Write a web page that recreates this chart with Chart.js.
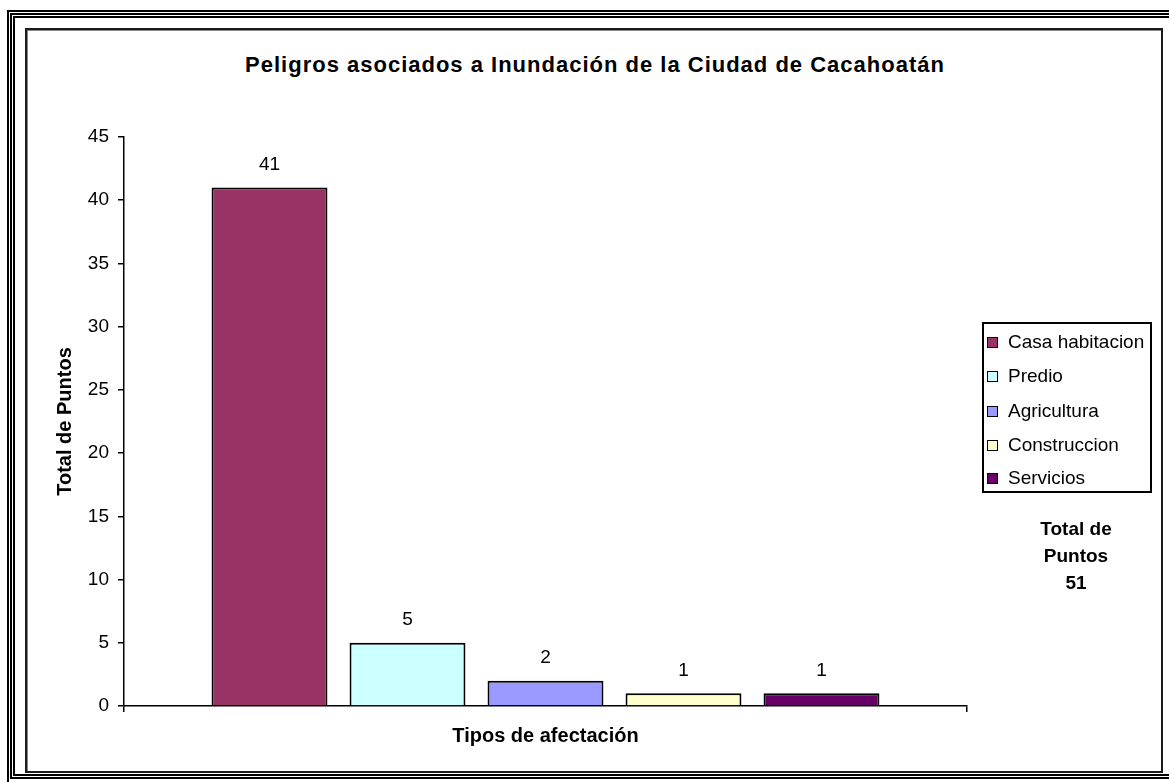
<!DOCTYPE html>
<html>
<head>
<meta charset="utf-8">
<script src="https://cdn.jsdelivr.net/npm/chart.js@4.4.0/dist/chart.umd.min.js"></script>
<style>
  html, body { margin:0; padding:0; background:#fff; }
  body { width:1169px; height:782px; position:relative; overflow:hidden; font-family:"Liberation Sans", Arial, sans-serif; }
  .frame { position:absolute; border:2px solid #000; box-sizing:border-box; }
  #inner { left:25px; top:28px; width:1138px; height:745px; border:2px solid #1b1b1b; box-shadow: inset 1px 1px 0 #888; }
  #title { position:absolute; left:0; width:1190px; top:52px; text-align:center; font-weight:bold; font-size:22px; letter-spacing:1px; white-space:nowrap; color:#000; }
  #legend { position:absolute; left:982px; top:322px; width:170px; height:171px; border:2px solid #000; box-sizing:border-box; }
  .item { position:absolute; left:2px; height:24px; line-height:24px; font-size:19px; color:#000; white-space:nowrap; }
  .sw { position:absolute; left:1px; top:7px; width:11px; height:11px; border:1.5px solid #000; box-sizing:border-box; }
  .item span.t { position:absolute; left:22px; top:0; }
  #total { position:absolute; left:1016px; width:120px; top:515px; text-align:center; font-weight:bold; font-size:19px; line-height:27px; color:#000; }
  canvas { position:absolute; left:0; top:0; }
</style>
</head>
<body>
<div class="frame" style="left:7px;top:10px;width:1200px;height:800px;"></div>
<div class="frame" style="left:10px;top:13px;width:1200px;height:766px;"></div>
<div class="frame" style="left:13px;top:16px;width:1200px;height:760px;border-width:2px;"></div>
<div id="inner" class="frame"></div>
<div id="title"></div>
<canvas id="c" width="1169" height="782"></canvas>
<div id="legend"></div>
<div id="total"></div>
<script>
const chartTitle = "Peligros asociados a Inundación de la Ciudad de Cacahoatán";
const xTitle = "Tipos de afectación";
const yTitle = "Total de Puntos";
const categories = [""];
const seriesNames = ["Casa habitacion", "Predio", "Agricultura", "Construccion", "Servicios"];
const seriesValues = [41, 5, 2, 1, 1];
const seriesColors = ["#993366", "#CCFFFF", "#9999FF", "#FFFFCC", "#660066"];
const yTicks = [0, 5, 10, 15, 20, 25, 30, 35, 40, 45];
const totalLines = ["Total de", "Puntos", "51"];

document.getElementById('title').textContent = chartTitle;
document.getElementById('total').innerHTML = totalLines.map(s => '<div>' + s + '</div>').join('');

const legend = document.getElementById('legend');
const rowCenters = [18, 52, 87, 121, 154];
seriesNames.forEach((n, i) => {
  const d = document.createElement('div');
  d.className = 'item';
  d.style.top = (rowCenters[i] - 12) + 'px';
  d.innerHTML = '<span class="sw" style="background:' + seriesColors[i] + '"></span><span class="t">' + n + '</span>';
  legend.appendChild(d);
});

const labelPlugin = {
  id: 'valueLabels',
  afterDatasetsDraw(chart) {
    const ctx = chart.ctx;
    ctx.save();
    ctx.font = '19px "Liberation Sans", Arial, sans-serif';
    ctx.fillStyle = '#000';
    ctx.textAlign = 'center';
    ctx.textBaseline = 'middle';
    chart.data.datasets.forEach((ds, i) => {
      const meta = chart.getDatasetMeta(i);
      meta.data.forEach((bar, j) => {
        ctx.fillText(String(ds.data[j]), bar.x, bar.y - 23);
      });
    });
    ctx.restore();
  }
};

new Chart(document.getElementById('c'), {
  type: 'bar',
  data: {
    labels: categories,
    datasets: seriesNames.map((n, i) => ({
      label: n,
      data: [seriesValues[i]],
      backgroundColor: seriesColors[i],
      borderColor: '#000',
      borderWidth: 2,
      categoryPercentage: 0.8185,
      barPercentage: 0.84
    }))
  },
  options: {
    responsive: false,
    animation: false,
    devicePixelRatio: 1,
    layout: { padding: { left: 45, right: 202, top: 137, bottom: 34 } },
    plugins: { legend: { display: false }, title: { display: false }, tooltip: { enabled: false } },
    scales: {
      x: {
        offset: true,
        grid: { display: true, drawOnChartArea: false, offset: true, tickLength: 6, color: '#000', lineWidth: 1.5 },
        border: { display: true, color: '#000', width: 1.5 },
        ticks: { display: false },
        title: { display: true, text: xTitle, color: '#000', font: { family: '"Liberation Sans", Arial, sans-serif', size: 20, weight: 'bold' }, padding: { top: 12, bottom: 0 } }
      },
      y: {
        min: 0, max: 45,
        afterBuildTicks(scale) { scale.ticks = yTicks.map(v => ({ value: v })); },
        afterFit(scale) { scale.width = 79; },
        grid: { display: true, drawOnChartArea: false, tickLength: 6, color: '#000', lineWidth: 1.5 },
        border: { display: true, color: '#000', width: 1.5 },
        ticks: { color: '#000', padding: 9, font: { family: '"Liberation Sans", Arial, sans-serif', size: 19 } },
        title: { display: true, text: yTitle, color: '#000', font: { family: '"Liberation Sans", Arial, sans-serif', size: 20, weight: 'bold' }, padding: { top: 8, bottom: 0 } }
      }
    }
  },
  plugins: [labelPlugin]
});
</script>
</body>
</html>
